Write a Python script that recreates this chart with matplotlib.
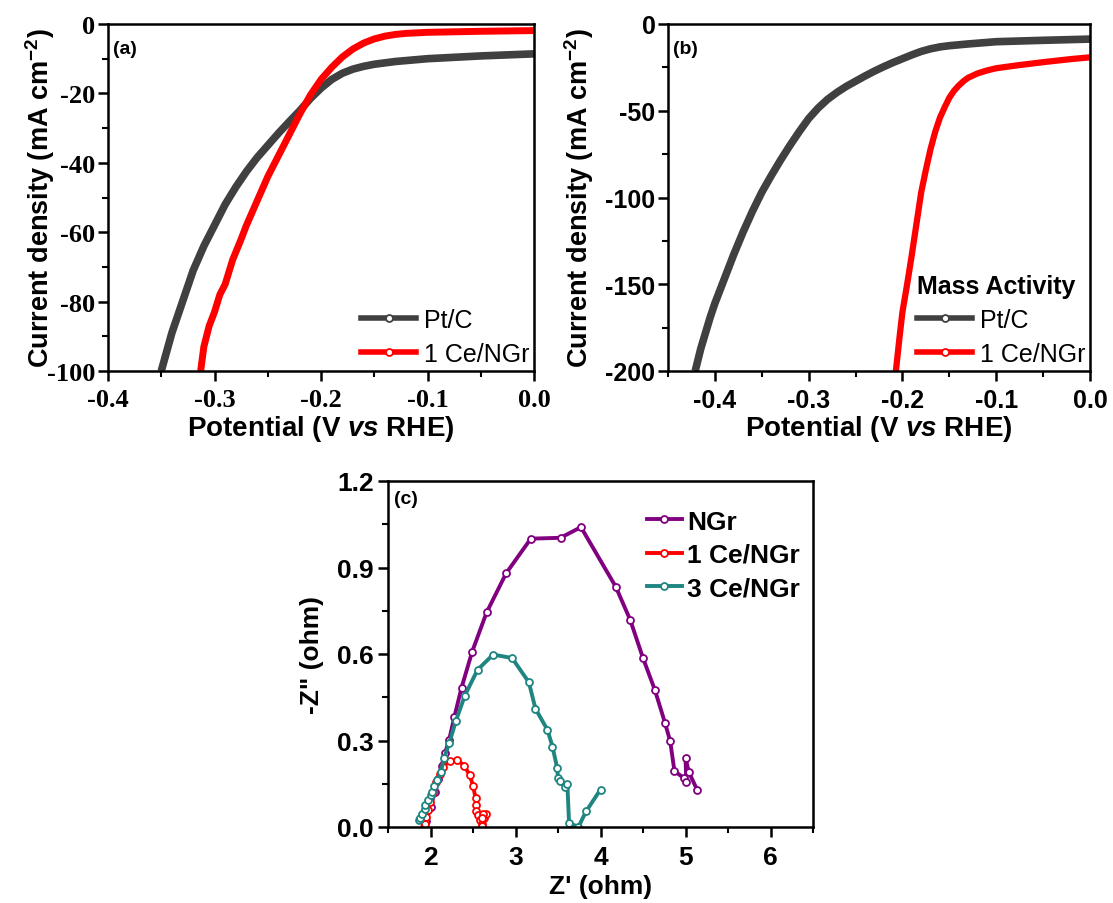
import numpy as np
import matplotlib
matplotlib.use('Agg')
import matplotlib.pyplot as plt
from matplotlib.lines import Line2D
from matplotlib.ticker import MultipleLocator, FormatStrFormatter

plt.rcParams['font.family'] = ['Liberation Sans', 'DejaVu Sans']
plt.rcParams['mathtext.fontset'] = 'custom'
plt.rcParams['mathtext.rm'] = 'Liberation Sans'
plt.rcParams['mathtext.bf'] = 'Liberation Sans:bold'
plt.rcParams['mathtext.it'] = 'Liberation Sans:italic'
plt.rcParams['mathtext.bfit'] = 'Liberation Sans:italic:bold'

# ---- data: (a) LSV, geometric current density
a_ptc_v = [-0.350, -0.340, -0.330, -0.320, -0.310, -0.300, -0.290, -0.280, -0.270, -0.260,
           -0.250, -0.240, -0.230, -0.220, -0.210, -0.200, -0.190, -0.180, -0.170, -0.160,
           -0.150, -0.130, -0.100, -0.050, 0.000]
a_ptc_j = [-100, -89, -80, -71, -64, -58, -52, -47, -42.5, -38.5,
           -35, -31.5, -28.2, -25, -21.5, -18.5, -16, -14.2, -13, -12.2,
           -11.6, -10.8, -10, -9.2, -8.6]
a_ce_v = [-0.313, -0.310, -0.305, -0.300, -0.295, -0.290, -0.285, -0.283, -0.275, -0.270,
          -0.260, -0.250, -0.240, -0.230, -0.220, -0.210, -0.200, -0.190, -0.180, -0.170,
          -0.160, -0.150, -0.140, -0.130, -0.120, -0.100, -0.050, 0.000]
a_ce_j = [-100, -93, -87, -83, -78, -75, -70, -68, -62, -58,
          -51, -44, -38, -32, -26, -20.5, -16, -12.5, -9.5, -7.2,
          -5.5, -4.3, -3.5, -3.0, -2.7, -2.4, -2.1, -1.9]

# ---- data: (b) mass activity
b_ptc_v = [-0.421, -0.415, -0.410, -0.405, -0.400, -0.390, -0.380, -0.370, -0.360, -0.350,
           -0.340, -0.330, -0.320, -0.310, -0.300, -0.290, -0.280, -0.270, -0.260, -0.250,
           -0.240, -0.230, -0.220, -0.210, -0.200, -0.190, -0.180, -0.170, -0.160, -0.150,
           -0.130, -0.100, -0.050, 0.000]
b_ptc_j = [-200, -187, -178, -169, -161, -147, -133, -120, -108, -97,
           -87.5, -78.5, -70, -62, -54.5, -48.5, -43.5, -39.5, -36, -33,
           -30, -27.2, -24.6, -22.2, -20, -17.8, -15.8, -14.3, -13.2, -12.5,
           -11.5, -10.2, -9.4, -8.7]
b_ce_v = [-0.207, -0.203, -0.200, -0.195, -0.190, -0.185, -0.180, -0.175, -0.170, -0.165,
          -0.160, -0.155, -0.150, -0.145, -0.140, -0.135, -0.130, -0.120, -0.110, -0.100,
          -0.080, -0.050, -0.020, 0.000]
b_ce_j = [-200, -180, -166, -150, -133, -115, -97, -84, -72, -62,
          -54, -48, -42.5, -38.5, -35.5, -33, -31, -28.5, -26.8, -25.5,
          -24, -22, -20.2, -19.2]

# ---- data: (c) Nyquist plots
ngr_re = [1.95, 2.00, 2.05, 2.09, 2.13, 2.17, 2.22, 2.28, 2.365, 2.49, 2.66, 2.89, 3.18,
          3.53, 3.77, 4.18, 4.35, 4.50, 4.64, 4.76, 4.82, 4.87, 4.98, 5.01, 5.00, 5.04, 5.14]
ngr_im = [0.02, 0.07, 0.12, 0.165, 0.213, 0.255, 0.303, 0.381, 0.483, 0.608, 0.744, 0.88, 1.00,
          1.003, 1.04, 0.833, 0.718, 0.586, 0.475, 0.36, 0.297, 0.194, 0.17, 0.155, 0.24, 0.19, 0.127]
ce1_re = [1.92, 1.93, 1.95, 1.97, 1.99, 2.03, 2.07, 2.11, 2.145, 2.227, 2.313, 2.396, 2.463,
          2.502, 2.53, 2.537, 2.541, 2.56, 2.58, 2.60, 2.61, 2.63, 2.65, 2.62, 2.60]
ce1_im = [0.0, 0.012, 0.035, 0.058, 0.087, 0.121, 0.156, 0.185, 0.208, 0.23, 0.233, 0.213, 0.179,
          0.142, 0.10, 0.077, 0.054, 0.04, 0.023, 0.012, 0.003, 0.03, 0.045, 0.045, 0.03]
ce3_re = [1.87, 1.88, 1.90, 1.93, 1.94, 1.97, 2.00, 2.02, 2.045, 2.08, 2.12, 2.16, 2.22, 2.298,
          2.404, 2.553, 2.737, 2.96, 3.157, 3.235, 3.376, 3.435, 3.49, 3.50, 3.52, 3.58, 3.61,
          3.63, 3.74, 3.83, 4.00]
ce3_im = [0.023, 0.032, 0.046, 0.063, 0.078, 0.092, 0.11, 0.121, 0.142, 0.164, 0.19, 0.239, 0.29,
          0.367, 0.456, 0.545, 0.598, 0.586, 0.502, 0.41, 0.337, 0.279, 0.205, 0.17, 0.158, 0.14,
          0.15, 0.014, 0.0, 0.054, 0.13]

grey = '#404040'
red = '#ff0000'
purple = '#800080'
teal = '#1f8580'

W, H = 1113, 904
fig = plt.figure(figsize=(W / 100, H / 100), dpi=100)


def box(l, t, r, b):
    return [l / W, 1 - b / H, (r - l) / W, (b - t) / H]


def style_axes(ax):
    for s in ax.spines.values():
        s.set_linewidth(1.8)
    ax.tick_params(which='major', direction='out', length=7, width=1.8, top=False, right=False)
    ax.tick_params(which='minor', direction='out', length=4, width=1.5, top=False, right=False)


def open_handle(color, lw=4):
    return Line2D([], [], color=color, lw=lw, marker='o', ms=5,
                  mfc='white', mec=color, mew=1.3)


ylab = r'Current density (mA cm$^{\mathbf{-2}}$)'
xlab = r'Potential (V $\mathbfit{vs}$ RHE)'

# ---------------- (a)
ax1 = fig.add_axes(box(108, 25, 534, 372))
ax1.plot(a_ptc_v, a_ptc_j, color=grey, lw=5.5, solid_capstyle='butt', solid_joinstyle='round')
ax1.plot(a_ce_v, a_ce_j, color=red, lw=5, solid_capstyle='butt', solid_joinstyle='round')
ax1.set_xlim(-0.4, 0.0)
ax1.set_ylim(-100, 0)
ax1.set_xticks([-0.4, -0.3, -0.2, -0.1, 0.0])
ax1.set_xticklabels(['-0.4', '-0.3', '-0.2', '-0.1', '0.0'])
ax1.xaxis.set_minor_locator(MultipleLocator(0.05))
ax1.set_yticks([0, -20, -40, -60, -80, -100])
ax1.set_yticklabels(['0', '-20', '-40', '-60', '-80', '-100'])
ax1.yaxis.set_minor_locator(MultipleLocator(10))
style_axes(ax1)
for lab in ax1.get_xticklabels() + ax1.get_yticklabels():
    lab.set_fontfamily('Liberation Serif')
    lab.set_fontweight('bold')
    lab.set_fontsize(19)
ax1.tick_params(axis='x', pad=5)
ax1.tick_params(axis='y', pad=2)
ax1.set_xlabel(xlab, fontsize=20, fontweight='bold')
ax1.set_ylabel(ylab, fontsize=19.5, fontweight='bold')
ax1.xaxis.set_label_coords(0.5, -0.12)
ax1.yaxis.set_label_coords(-0.12, 0.5)
ax1.text(0.012, 0.955, '(a)', transform=ax1.transAxes, fontsize=14, fontweight='bold', va='top')
ax1.legend([open_handle(grey), open_handle(red)], ['Pt/C', '1 Ce/NGr'],
           loc='lower right', bbox_to_anchor=(1.0, 0.0), frameon=False, fontsize=18,
           handlelength=2.2, handletextpad=0.3, labelspacing=0.4, borderaxespad=0.1,
           borderpad=0.1)

# ---------------- (b)
ax2 = fig.add_axes(box(668, 25, 1090, 372))
ax2.plot(b_ptc_v, b_ptc_j, color=grey, lw=5.5, solid_capstyle='butt', solid_joinstyle='round')
ax2.plot(b_ce_v, b_ce_j, color=red, lw=4.5, solid_capstyle='butt', solid_joinstyle='round')
ax2.set_xlim(-0.45, 0.0)
ax2.set_ylim(-200, 0)
ax2.set_xticks([-0.4, -0.3, -0.2, -0.1, 0.0])
ax2.set_xticklabels(['-0.4', '-0.3', '-0.2', '-0.1', '0.0'])
ax2.xaxis.set_minor_locator(MultipleLocator(0.05))
ax2.set_yticks([0, -50, -100, -150, -200])
ax2.set_yticklabels(['0', '-50', '-100', '-150', '-200'])
ax2.yaxis.set_minor_locator(MultipleLocator(25))
style_axes(ax2)
for lab in ax2.get_xticklabels() + ax2.get_yticklabels():
    lab.set_fontweight('bold')
    lab.set_fontsize(18)
ax2.tick_params(axis='x', pad=5)
ax2.tick_params(axis='y', pad=2)
ax2.set_xlabel(xlab, fontsize=20, fontweight='bold')
ax2.set_ylabel(ylab, fontsize=19.5, fontweight='bold')
ax2.xaxis.set_label_coords(0.5, -0.12)
ax2.yaxis.set_label_coords(-0.17, 0.5)
ax2.text(0.012, 0.955, '(b)', transform=ax2.transAxes, fontsize=14, fontweight='bold', va='top')
leg2 = ax2.legend([open_handle(grey), open_handle(red)], ['Pt/C', '1 Ce/NGr'],
                  loc='lower right', bbox_to_anchor=(1.0, 0.0), frameon=False, fontsize=18,
                  handlelength=2.2, handletextpad=0.3, labelspacing=0.4, borderaxespad=0.1,
                  borderpad=0.1, title='Mass Activity',
                  title_fontproperties={'size': 18, 'weight': 'bold'})
leg2._legend_box.align = 'left'

# ---------------- (c)
ax3 = fig.add_axes(box(388, 482, 813, 828))
mk = dict(marker='o', ms=5, mfc='white', mew=1.3)
ax3.plot(ngr_re, ngr_im, color=purple, lw=2.8, mec=purple, label='NGr', **mk)
ax3.plot(ce1_re, ce1_im, color=red, lw=2.8, mec=red, label='1 Ce/NGr', **mk)
ax3.plot(ce3_re, ce3_im, color=teal, lw=2.8, mec=teal, label='3 Ce/NGr', **mk)
ax3.set_xlim(1.5, 6.5)
ax3.set_ylim(0, 1.2)
ax3.xaxis.set_major_locator(MultipleLocator(1))
ax3.xaxis.set_minor_locator(MultipleLocator(0.5))
ax3.yaxis.set_major_locator(MultipleLocator(0.3))
ax3.yaxis.set_minor_locator(MultipleLocator(0.15))
ax3.yaxis.set_major_formatter(FormatStrFormatter('%.1f'))
style_axes(ax3)
for lab in ax3.get_xticklabels() + ax3.get_yticklabels():
    lab.set_fontweight('bold')
    lab.set_fontsize(19)
ax3.tick_params(axis='x', pad=6)
ax3.tick_params(axis='y', pad=3)
ax3.set_xlabel("Z' (ohm)", fontsize=19, fontweight='bold')
ax3.set_ylabel('-Z" (ohm)', fontsize=19, fontweight='bold')
ax3.xaxis.set_label_coords(0.5, -0.135)
ax3.yaxis.set_label_coords(-0.15, 0.5)
ax3.text(0.015, 0.975, '(c)', transform=ax3.transAxes, fontsize=14, fontweight='bold', va='top')
ax3.legend(loc='upper right', bbox_to_anchor=(0.975, 0.925), frameon=False,
           prop={'size': 19, 'weight': 'bold'}, handlelength=1.3, handletextpad=0.2,
           labelspacing=0.35, borderaxespad=0.0, borderpad=0.1)

fig.savefig('out.png', dpi=100)
